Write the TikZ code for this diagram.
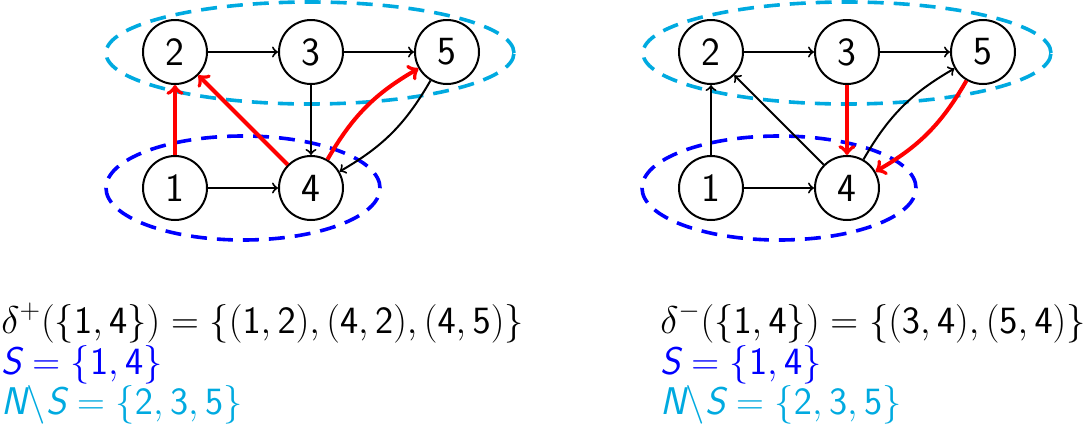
\RequirePackage{fix-cm}
\documentclass[tikz,border=0pt]{standalone}
\usepackage{amsmath}
\definecolor{setcyan}{RGB}{0,170,224}
\definecolor{setblue}{RGB}{0,0,255}
\newcommand\sfS{\textsf{\slshape S}}
\newcommand\sfN{\textsf{\slshape N}}
\newcommand\sd[1]{\mathsf{#1}}
\begin{document}
\begin{tikzpicture}[x=0.5pt,y=-0.5pt,
  vert/.style={circle,draw,line width=1pt,minimum size=32pt,inner sep=0pt,font=\fontsize{20}{24}\selectfont\sffamily},
  edge/.style={->,line width=1pt},
  redge/.style={->,line width=2pt,red},
  cutset/.style={line width=1.8pt,dash pattern=on 8pt off 5pt},
  txt/.style={anchor=base west,inner sep=0pt,font=\fontsize{19.3}{23}\selectfont\sffamily}]
\useasboundingbox (0,0) rectangle (1084,429);
% left graph
\draw[cutset,setcyan] (310,53) ellipse [x radius=102pt, y radius=25.5pt];
\draw[cutset,setblue] (243,188) ellipse [x radius=68.5pt, y radius=26pt];
\node[vert] (l1) at (175,188) {1};
\node[vert] (l2) at (175,52) {2};
\node[vert] (l3) at (311,52) {3};
\node[vert] (l4) at (311,188) {4};
\node[vert] (l5) at (447,52) {5};
\draw[edge] (l2) -- (l3);
\draw[edge] (l3) -- (l5);
\draw[edge] (l1) -- (l4);
\draw[edge] (l3) -- (l4);
\draw[edge] (l5) to[bend left=15] (l4);
\draw[redge] (l1) -- (l2);
\draw[redge] (l4) -- (l2);
\draw[redge] (l4) to[bend left=15] (l5);
% right graph
\draw[cutset,setcyan] (847,53) ellipse [x radius=102pt, y radius=25.5pt];
\draw[cutset,setblue] (779,188) ellipse [x radius=68.5pt, y radius=26pt];
\node[vert] (r1) at (711,188) {1};
\node[vert] (r2) at (711,52) {2};
\node[vert] (r3) at (847,52) {3};
\node[vert] (r4) at (847,188) {4};
\node[vert] (r5) at (983,52) {5};
\draw[edge] (r2) -- (r3);
\draw[edge] (r3) -- (r5);
\draw[edge] (r1) -- (r4);
\draw[edge] (r1) -- (r2);
\draw[edge] (r4) -- (r2);
\draw[edge] (r4) to[bend left=15] (r5);
\draw[redge] (r3) -- (r4);
\draw[redge] (r5) to[bend left=15] (r4);
% texts
\node[txt] (tl1) at (1,333) {$\delta^{+}(\{\sd{1},\sd{4}\})=\{(\sd{1},\sd{2}),(\sd{4},\sd{2}),(\sd{4},\sd{5})\}$};
\node[txt,text=setblue] (tl2) at (1,374) {$\sfS=\{\sd{1},\sd{4}\}$};
\node[txt,text=setcyan] (tl3) at (1,414) {$\sfN\backslash\sfS=\{\sd{2},\sd{3},\sd{5}\}$};
\node[txt] (tr1) at (660,333) {$\delta^{-}(\{\sd{1},\sd{4}\})=\{(\sd{3},\sd{4}),(\sd{5},\sd{4})\}$};
\node[txt,text=setblue] (tr2) at (660,374) {$\sfS=\{\sd{1},\sd{4}\}$};
\node[txt,text=setcyan] (tr3) at (660,414) {$\sfN\backslash\sfS=\{\sd{2},\sd{3},\sd{5}\}$};
\end{tikzpicture}
\end{document}
